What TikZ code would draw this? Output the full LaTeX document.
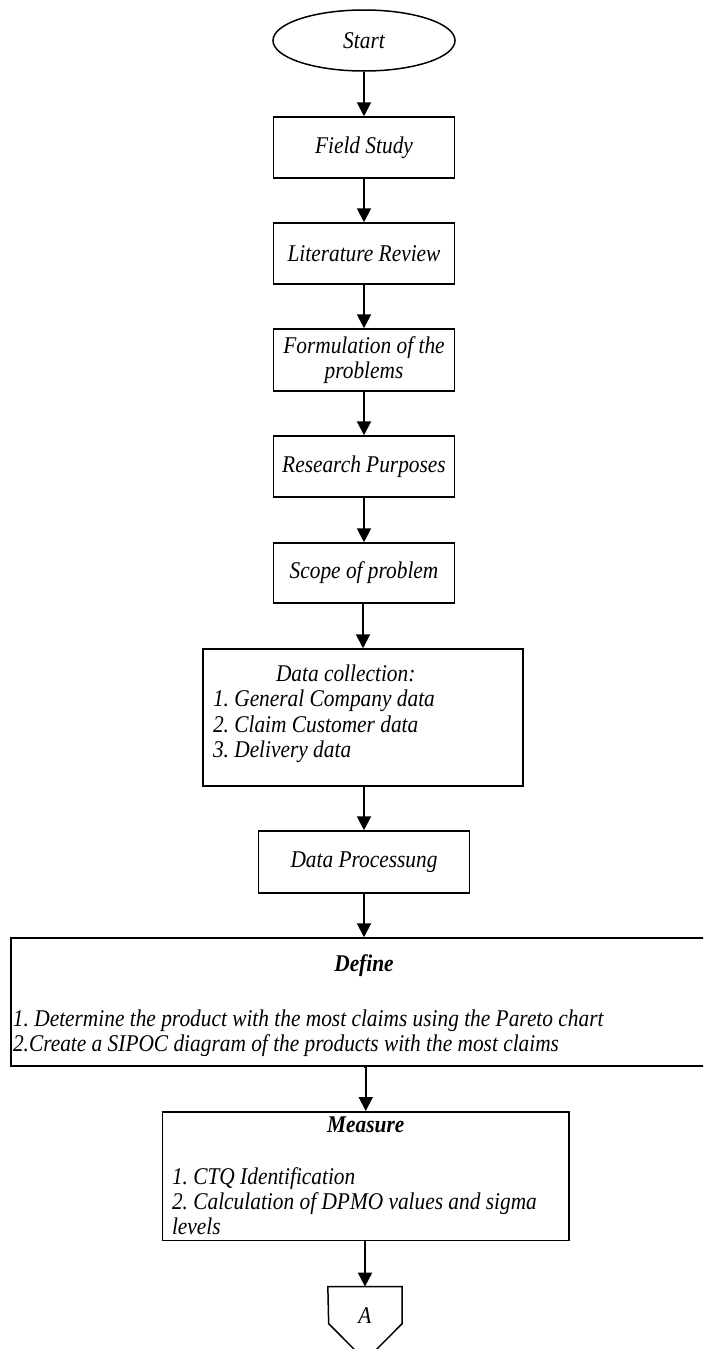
\documentclass[tikz,border=0pt]{standalone}
\usepackage{fontspec}
\setmainfont{Liberation Serif}[FakeStretch = 0.89]
\usetikzlibrary{shapes.geometric, arrows.meta}
\setlength{\parindent}{0pt}

\begin{document}
\begin{tikzpicture}[x = 0.5pt, y = -0.5pt,
    font = \fontsize{12}{12.7}\selectfont\itshape\frenchspacing,
    box/.style = {draw, line width = 0.75pt, inner sep = 0pt, align = center},
    arr/.style = {line width = 1pt, -{Triangle[width = 7pt, length = 7pt]}}]
    \clip (0, 0) rectangle (703, 1349);

    \node[box, ellipse, minimum width = 91pt, minimum height = 30.5pt] (start) at (364, 40.5) {Start};
    \node[box, minimum width = 90.5pt, minimum height = 30.5pt] (field) at (364, 147.5) {Field Study};
    \node[box, minimum width = 90.5pt, minimum height = 30.5pt] (lit) at (364, 253.5) {Literature Review};
    \node[box, minimum width = 90.5pt, minimum height = 31pt] (form) at (364, 360) {Formulation of the\\problems};
    \node[box, minimum width = 90.5pt, minimum height = 30.5pt] (purp) at (364, 466.5) {Research Purposes};
    \node[box, minimum width = 90.5pt, minimum height = 30pt] (scope) at (364, 573) {Scope of problem};
    \node[box, align = flush left, text width = 150pt, inner xsep = 5pt, minimum height = 68.5pt] (coll) at (363, 717.5)
        {\hspace*{31.5pt}\rule{0pt}{11pt}Data collection:\\1. General Company data\\2. Claim Customer data\\3. Delivery data\\[-3.5pt]\mbox{}};
    \node[box, minimum width = 105.5pt, minimum height = 31pt] (proc) at (364, 862) {Data Processung};
    \node[box, align = flush left, text width = 351pt, inner xsep = 1pt, minimum height = 64pt] (define) at (364, 1002)
        {\hfill\rule{0pt}{12pt}\textbf{Define}\hfill\mbox{}\\[2pt]\mbox{}\\1. Determine the product with the most claims using the Pareto chart\\2.Create a SIPOC diagram of the products with the most claims};
    \node[box, align = flush left, text width = 193.75pt, inner xsep = 4.75pt, minimum height = 64.25pt] (measure) at (365.75, 1176)
        {\hfill\textbf{Measure}\hfill\mbox{}\\[0.3pt]\mbox{}\\1. CTQ Identification\\2. Calculation of DPMO values and sigma\\levels};
    \node[minimum width = 36.75pt, minimum height = 28.6pt, inner sep = 0pt] (conA) at (365, 1315.6) {A};
    \draw[line width = 0.75pt] (conA.north west) -- (conA.north east) -- ++(0, 37) -- ++(-36.75, 37) -- ++(-36.75, -37) -- cycle;

    \foreach \a/\b in {start/field, field/lit, lit/form, form/purp, purp/scope, scope/coll, coll/proc, proc/define, define/measure, measure/conA}
        \draw[arr] (\a.south) -- (\a.south -| \b.north) -- (\b.north);
\end{tikzpicture}
\end{document}
